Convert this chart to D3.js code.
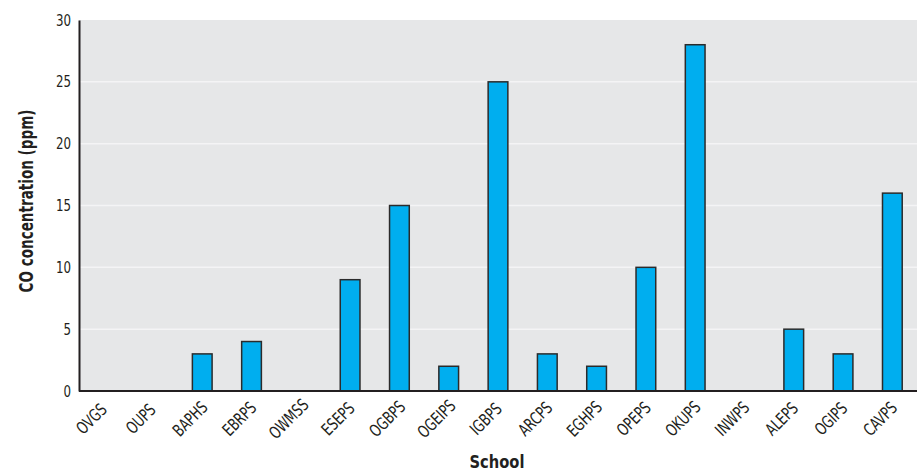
<!DOCTYPE html>
<html><head><meta charset="utf-8">
<script src="https://cdn.jsdelivr.net/npm/d3@7"></script>
<style>
body{margin:0;background:#fff;}
text{font-family:"DejaVu Sans Condensed","Liberation Sans Narrow",sans-serif;fill:#231f20;}
</style></head>
<body><svg id="c" width="924" height="473"></svg>
<script>
const schools = ["OVGS","OUPS","BAPHS","EBRPS","OWMSS","ESEPS","OGBPS","OGEIPS","IGBPS","ARCPS","EGHPS","OPEPS","OKUPS","INWPS","ALEPS","OGIPS","CAVPS"];
const coValues = [0,0,3,4,0,9,15,2,25,3,2,10,28,0,5,3,16];
const yTicks = [0,5,10,15,20,25,30];

const svg = d3.select("#c");
const L=79,R=917,T=20,B=391;
const x = d3.scaleBand().domain(schools).range([L,R]).paddingInner(0.6).paddingOuter(0.3);
const y = d3.scaleLinear().domain([0,30]).range([B,T]);

svg.append("rect").attr("x",L).attr("y",T).attr("width",R-L).attr("height",B-T).attr("fill","#e6e7e8");
svg.append("g").selectAll("line").data(yTicks.filter(d=>d>0&&d<30)).join("line")
  .attr("x1",L).attr("x2",R).attr("y1",d=>y(d)).attr("y2",d=>y(d))
  .attr("stroke","#f4f4f5").attr("stroke-width",1.5);

svg.append("g").selectAll("rect").data(schools.map((s,i)=>({s,v:coValues[i]})).filter(d=>d.v>0)).join("rect")
  .attr("x",d=>x(d.s)).attr("width",x.bandwidth())
  .attr("y",d=>y(d.v)).attr("height",d=>y(0)-y(d.v))
  .attr("fill","#00aeef").attr("stroke","#2b2b2b").attr("stroke-width",1.5);

const ya = svg.append("g").attr("transform",`translate(${L},0)`)
  .call(d3.axisLeft(y).tickValues(yTicks).tickSize(0).tickPadding(8));
ya.select(".domain").attr("stroke","#231f20").attr("stroke-width",2);
ya.selectAll("text").attr("font-size",16).style("font-family",null)
  .attr("x",-8/0.82).attr("transform","scale(0.82,1)");

const xa = svg.append("g").attr("transform",`translate(0,${B})`)
  .call(d3.axisBottom(x).tickSize(0).tickPadding(0));
xa.select(".domain").attr("stroke","#231f20").attr("stroke-width",2).attr("d",`M${L},0H${R}`);
xa.selectAll("text").attr("font-size",17).style("font-family",null)
  .attr("text-anchor","middle").attr("dy",0).attr("y",0)
  .attr("transform","translate(-8,32) rotate(-45) scale(0.8,1)");

svg.append("text").attr("x",497).attr("y",468).attr("text-anchor","middle")
  .attr("font-size",18).attr("font-weight","bold")
  .attr("textLength",55).attr("lengthAdjust","spacingAndGlyphs").text("School");
svg.append("text").attr("transform","translate(33,201) rotate(-90)").attr("text-anchor","middle")
  .attr("font-size",19).attr("font-weight","bold")
  .attr("textLength",183).attr("lengthAdjust","spacingAndGlyphs").text("CO concentration (ppm)");
</script></body></html>
